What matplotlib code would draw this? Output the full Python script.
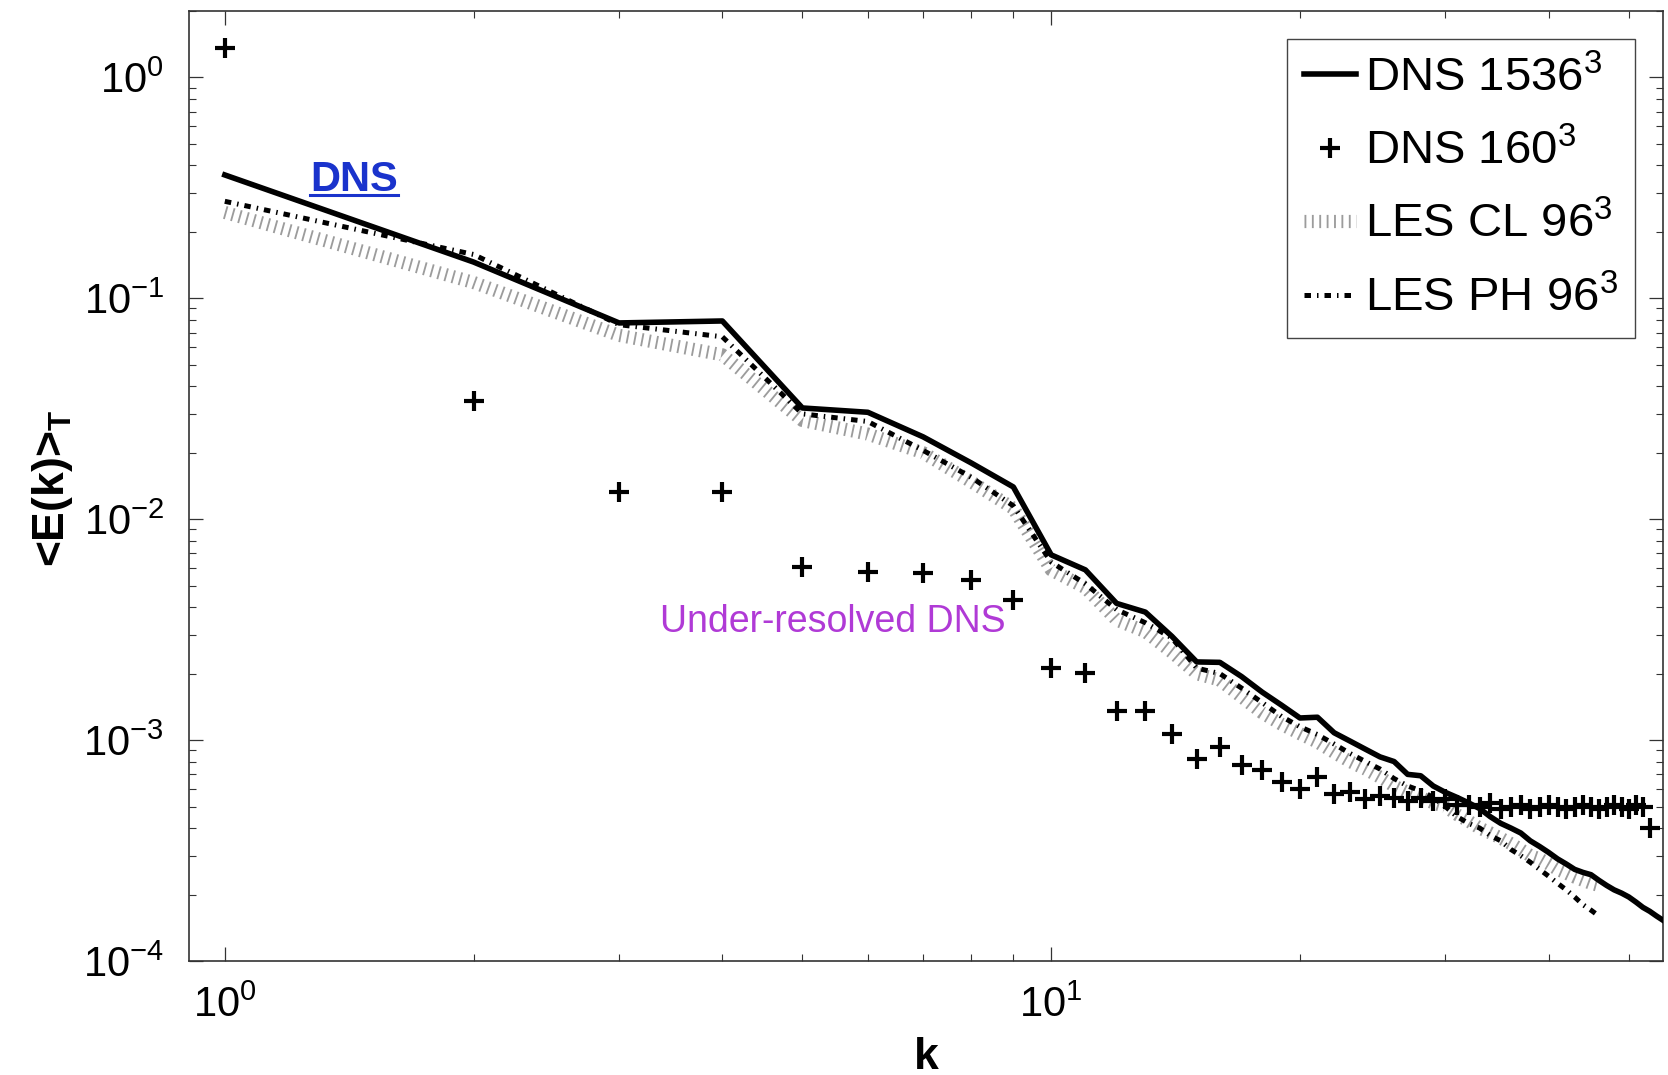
import matplotlib
matplotlib.use('Agg')
import matplotlib.pyplot as plt
import numpy as np
from matplotlib.lines import Line2D
from matplotlib.transforms import IdentityTransform

plt.rcParams['font.family'] = ['Liberation Sans', 'DejaVu Sans']
plt.rcParams['mathtext.default'] = 'regular'

# DNS 1536^3
k_dns = np.arange(1, 56)
e_dns = [0.362, 0.146, 0.0774, 0.079, 0.0319, 0.0305, 0.0236, 0.018, 0.014, 0.0069,
         0.0059, 0.00416, 0.0038, 0.00295, 0.00226, 0.00225, 0.00194, 0.00165, 0.00144, 0.00126,
         0.00127, 0.00108, 0.00099, 0.00091, 0.00084, 0.0008, 0.0007, 0.00069, 0.00062, 0.00058,
         0.00055, 0.00052, 0.00049, 0.00045, 0.00042, 0.0004, 0.00038, 0.00035, 0.00033, 0.00031,
         0.00029, 0.000275, 0.00026, 0.000252, 0.000246, 0.000232, 0.00022, 0.00021, 0.000203, 0.000195,
         0.000185, 0.000175, 0.000168, 0.00016, 0.000153]

# DNS 160^3 (under-resolved)
k_160 = np.arange(1, 54)
e_160 = [1.36, 0.0343, 0.0133, 0.0133, 0.0061, 0.0058, 0.0057, 0.0053, 0.0043, 0.00213,
         0.00201, 0.00135, 0.00135, 0.00107, 0.00082, 0.00093, 0.00077, 0.00073, 0.000645, 0.0006,
         0.00068, 0.00057, 0.00058, 0.00054, 0.00056, 0.00055, 0.00053, 0.00055, 0.00053, 0.00054,
         0.00051, 0.00051, 0.0005, 0.00052, 0.00049, 0.0005, 0.00051, 0.00049, 0.0005, 0.00051,
         0.0005, 0.00049, 0.0005, 0.00051, 0.0005, 0.00049, 0.0005, 0.00051, 0.0005, 0.00049,
         0.00051, 0.0005, 0.0004]

# LES 96^3
k_les = np.arange(1, 47)
e_cl = [0.245, 0.118, 0.068, 0.0555, 0.028, 0.0243, 0.02, 0.0148, 0.0112, 0.0059,
        0.0049, 0.0035, 0.0031, 0.0025, 0.002, 0.00187, 0.00157, 0.00133, 0.00118, 0.00107,
        0.00098, 0.00088, 0.0008, 0.00074, 0.00068, 0.00062, 0.00058, 0.00055, 0.00052, 0.0005,
        0.00046, 0.00043, 0.0004, 0.00038, 0.00036, 0.00034, 0.00032, 0.0003, 0.00029, 0.000275,
        0.00026, 0.00025, 0.00024, 0.000232, 0.000225, 0.00022]
e_ph = [0.275, 0.158, 0.076, 0.067, 0.030, 0.0277, 0.0205, 0.0155, 0.0115, 0.0064,
        0.0051, 0.0039, 0.0034, 0.0029, 0.00212, 0.0020, 0.00172, 0.00148, 0.00128, 0.00115,
        0.00106, 0.00096, 0.00087, 0.0008, 0.00074, 0.00067, 0.00062, 0.00059, 0.00055, 0.0005,
        0.00045, 0.00042, 0.0004, 0.00037, 0.00035, 0.00032, 0.0003, 0.00028, 0.00026, 0.000242,
        0.000225, 0.00021, 0.000195, 0.00018, 0.00017, 0.00016]

fig = plt.figure(figsize=(16.68, 10.75), dpi=100)
ax = fig.add_axes([0.1133, 0.106, 0.8837, 0.8838])

l_cl, = ax.plot(k_les, e_cl, color='#9c9c9c', lw=9.5, ls=(0, (0.14, 0.42)),
                dash_capstyle='butt', label='LES CL 96$^3$', zorder=2)
l_ph, = ax.plot(k_les, e_ph, color='black', lw=3.6, ls=(0, (1.3, 1.2, 0.3, 1.2)),
                dash_capstyle='butt', label='LES PH 96$^3$', zorder=3)
l_dns, = ax.plot(k_dns, e_dns, color='black', lw=4.0, label='DNS 1536$^3$', zorder=4)
l_160, = ax.plot(k_160, e_160, ls='none', marker='+', ms=15, mew=3.0, color='black',
                 label='DNS 160$^3$', zorder=5)

ax.set_xscale('log')
ax.set_yscale('log')
ax.set_xlim(0.905, 55)
ax.set_ylim(1e-4, 2.0)

ax.tick_params(which='both', direction='in', top=True, right=True, colors='#333333')
ax.tick_params(which='major', length=10, width=0.9, labelsize=30, labelcolor='black')
ax.tick_params(axis='y', which='major', pad=18)
ax.tick_params(axis='x', which='major', pad=18)
ax.tick_params(which='minor', length=5, width=0.8)
for s in ax.spines.values():
    s.set_color('#333333')
    s.set_linewidth(1.2)

ax.set_xlabel('k', fontsize=32, fontweight='bold')
ax.set_ylabel('<E(k)>$_T$', fontsize=32, fontweight='bold')
ax.xaxis.set_label_coords(0.5, -0.08)
ax.yaxis.set_label_coords(-0.077, 0.497)

leg = ax.legend([l_dns, l_160, l_cl, l_ph],
                ['DNS 1536$^3$', 'DNS 160$^3$', 'LES CL 96$^3$', 'LES PH 96$^3$'],
                loc='upper right', fontsize=34, numpoints=1, handlelength=1.1,
                handletextpad=0.2, labelspacing=0.6, borderpad=0.35,
                borderaxespad=0.6, fancybox=False, framealpha=1)
leg.get_frame().set_edgecolor('#444444')
leg.get_frame().set_linewidth(1.0)

dns_txt = ax.text(0.112, 0.8105, 'DNS', transform=ax.transAxes, fontsize=30,
                  fontweight='bold', color='#1a33cc', ha='center', va='baseline')
ax.text(0.437, 0.3463, 'Under-resolved DNS', transform=ax.transAxes, fontsize=27,
        color='#b03ad6', ha='center', va='baseline')

# underline for the DNS label
fig.canvas.draw()
bb = dns_txt.get_window_extent()
base_y = ax.transAxes.transform((0.112, 0.8105))[1]
fig.add_artist(Line2D([bb.x0, bb.x1], [base_y - 4, base_y - 4], lw=2.2,
                      color='#1a33cc', transform=IdentityTransform()))

fig.savefig('out.png', dpi=100)
